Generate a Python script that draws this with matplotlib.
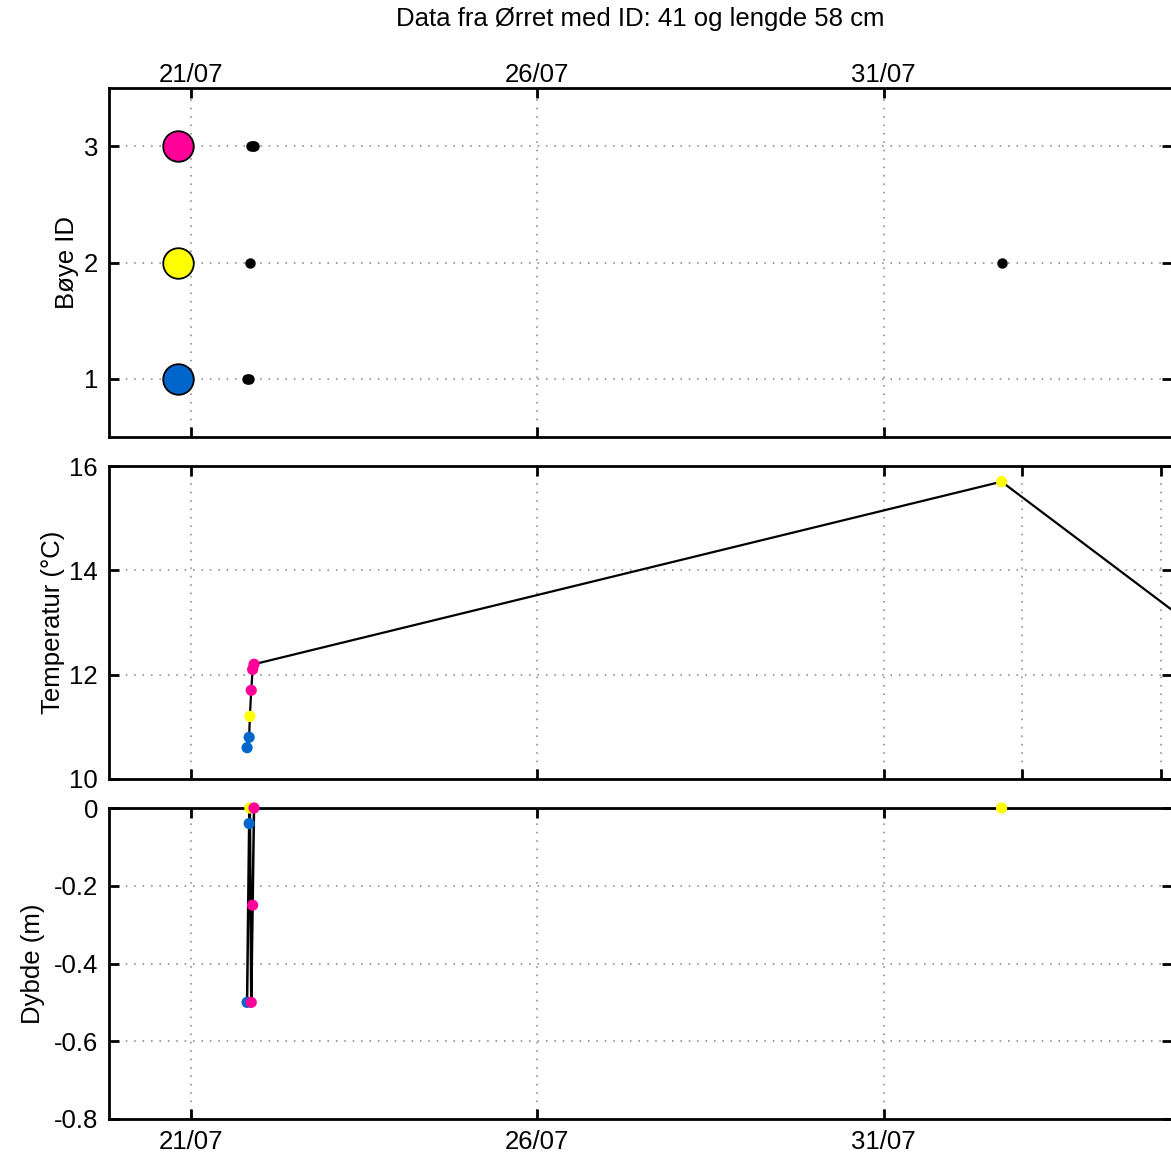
import datetime as dt

import matplotlib

matplotlib.use("Agg")
import matplotlib.dates as mdates
import matplotlib.pyplot as plt

plt.rcParams["font.family"] = ["Liberation Sans", "DejaVu Sans"]

# --- data (time = days after 21/07 00:00) ---
base = dt.datetime(2016, 7, 21)
det_days = [0.81, 0.84, 0.85, 0.87, 0.89, 0.91, 11.70, 14.50]
det_buoy = [1, 1, 2, 3, 3, 3, 2, 2]
det_temp = [10.6, 10.8, 11.2, 11.7, 12.1, 12.2, 15.7, 12.9]
det_depth = [-0.50, -0.04, 0.0, -0.50, -0.25, 0.0, 0.0, 0.0]

buoy_ids = [1, 2, 3]
buoy_colors = ["#0066cc", "#ffff00", "#ff0099"]
legend_day = -0.19

xlim_days = (-1.183, 14.16)
tick_days = [0, 5, 10]
mid_tick_days = [0, 5, 10, 12, 14]

title = "Data fra Ørret med ID: 41 og lengde 58 cm"


def to_num(d):
    return mdates.date2num(base + dt.timedelta(days=d))


t = [to_num(d) for d in det_days]
col_of = dict(zip(buoy_ids, buoy_colors))
cols = [col_of[b] for b in det_buoy]

fig = plt.figure(figsize=(11.71, 11.58), dpi=100)
W, H = 1171, 1158
boxes = [(88, 437), (466, 779), (808, 1119)]
axes = []
for top, bot in boxes:
    ax = fig.add_axes([109 / W, 1 - bot / H, 1063 / W, (bot - top) / H])
    axes.append(ax)
ax1, ax2, ax3 = axes

fs = 18.5
for ax in axes:
    ax.set_xlim(to_num(xlim_days[0]), to_num(xlim_days[1]))
    ax.xaxis.set_major_formatter(mdates.DateFormatter("%d/%m"))
    ax.grid(True, linestyle=(0, (1, 4.5)), color="#808080", linewidth=1.1)
    ax.tick_params(direction="in", length=7, width=2, top=True, right=True,
                   labelsize=fs, pad=8)
    for s in ax.spines.values():
        s.set_linewidth(2)
    ax.set_axisbelow(True)

# top panel: buoy ids
for b, c in zip(buoy_ids, buoy_colors):
    ax1.plot(to_num(legend_day), b, "o", ms=22, mfc=c, mec="black", mew=1.3)
ax1.plot(t, det_buoy, "o", ms=6.5, color="black", ls="none")
ax1.set_ylim(0.5, 3.5)
ax1.set_yticks(buoy_ids)
ax1.set_xticks([to_num(d) for d in tick_days])
ax1.tick_params(axis="x", labeltop=True, labelbottom=False, pad=1)
ax1.set_ylabel("Bøye ID", fontsize=fs, labelpad=3)

# middle panel: temperature
ax2.plot(t, det_temp, "-", color="black", lw=1.6, zorder=2)
ax2.scatter(t, det_temp, s=65, c=cols, zorder=3, linewidths=0)
ax2.set_ylim(10, 16)
ax2.set_yticks([10, 12, 14, 16])
ax2.set_xticks([to_num(d) for d in mid_tick_days])
ax2.tick_params(labelbottom=False)
ax2.set_ylabel("Temperatur (°C)", fontsize=fs, labelpad=3)

# bottom panel: depth
ax3.plot(t, det_depth, "-", color="black", lw=1.8, zorder=2)
ax3.scatter(t, det_depth, s=65, c=cols, zorder=3, linewidths=0, clip_on=False)
ax3.set_ylim(-0.8, 0)
ax3.set_yticks([-0.8, -0.6, -0.4, -0.2, 0])
ax3.set_yticklabels(["-0.8", "-0.6", "-0.4", "-0.2", "0"])
ax3.set_xticks([to_num(d) for d in tick_days])
ax3.set_ylabel("Dybde (m)", fontsize=fs, labelpad=6)

fig.text(640 / W, 1 - 19 / H, title, ha="center", va="center", fontsize=fs)

fig.savefig("out.png", dpi=100)
